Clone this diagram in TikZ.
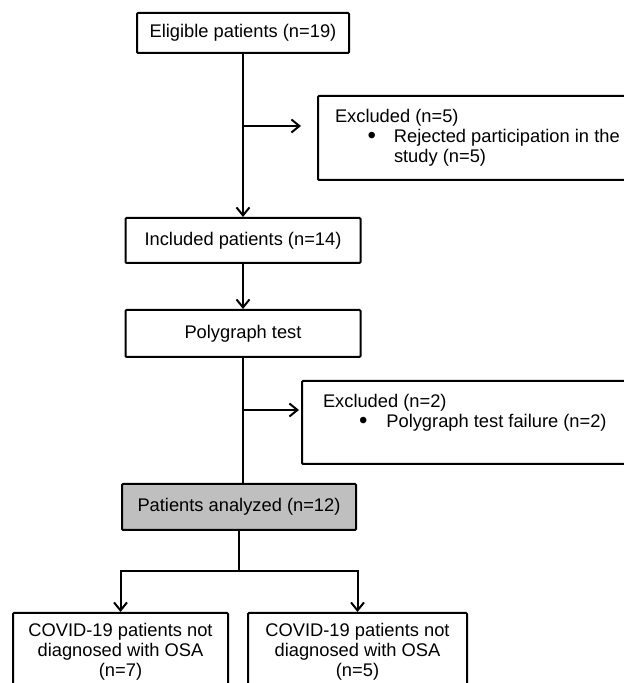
\documentclass[tikz,border=0pt]{standalone}
\usepackage{fontspec}
\setmainfont{Liberation Sans}
\usetikzlibrary{arrows.meta}
\tikzstyle{stagebox}=[draw,line width=2pt,rounded corners=1pt,inner sep=0pt,align=center]
\tikzstyle{exclbox}=[draw,line width=2pt,rounded corners=1pt,inner xsep=17pt,inner ysep=0pt,anchor=north west]
\tikzstyle{flow}=[draw,line width=2pt,-{Straight Barb[length=8pt,width=13pt]}]
\tikzstyle{trunk}=[draw,line width=2pt]
\newcommand{\bigdot}{\raisebox{-1.5pt}{\fontsize{24}{20}\selectfont\textbullet}}

\begin{document}
\begin{tikzpicture}[x=1pt,y=1pt,font=\fontsize{18.3}{20}\selectfont]
    \useasboundingbox (0,0) rectangle (624,683);
    \clip (0,0) rectangle (624,683);
    \path node[stagebox,minimum width=212pt,minimum height=40pt] (elig) at (243,650) {Eligible patients (n=19)}
        node[stagebox,minimum width=235pt,minimum height=45pt] (incl) at (243,442.5) {Included patients (n=14)}
        node[stagebox,minimum width=235pt,minimum height=47pt] (poly) at (243,349.5) {Polygraph test}
        node[stagebox,fill=black!25,minimum width=234pt,minimum height=46pt] (anal) at (239,176) {Patients analyzed (n=12)}
        node[stagebox,minimum width=215pt,minimum height=78pt,anchor=north] (osa7) at (120.5,71) {COVID-19 patients not\\diagnosed with OSA\\(n=7)}
        node[stagebox,minimum width=219pt,minimum height=78pt,anchor=north] (osa5) at (357.5,71) {COVID-19 patients not\\diagnosed with OSA\\(n=5)}
        node[exclbox] (excl1) at (317,588) {\parbox[c][84pt][t]{300pt}{\vspace*{13pt}Excluded (n=5)\\\hspace*{32.5pt}\bigdot\hspace{18pt}Rejected participation in the\\\hspace*{59pt}study (n=5)}}
        node[exclbox,inner xsep=21pt] (excl2) at (301,303) {\parbox[c][83pt][t]{300pt}{\vspace*{13pt}Excluded (n=2)\\\hspace*{36pt}\bigdot\hspace{19pt}Polygraph test failure (n=2)}}
        ;
    \coordinate (cut1) at (301,557);
    \coordinate (cut2) at (299,273);
    \draw[flow] (elig) -- (incl);
    \draw[flow] (incl) -- (poly);
    \draw[trunk] (poly) -- (poly.south |- anal.north);
    \draw[flow] (elig.south |- cut1) -- (cut1);
    \draw[flow] (poly.south |- cut2) -- (cut2);
    \draw[flow] (anal.south) -- ++(0,-40) -| (osa7.north);
    \draw[flow] (anal.south) ++(0,-40) -| (osa5.north);
\end{tikzpicture}
\end{document}
